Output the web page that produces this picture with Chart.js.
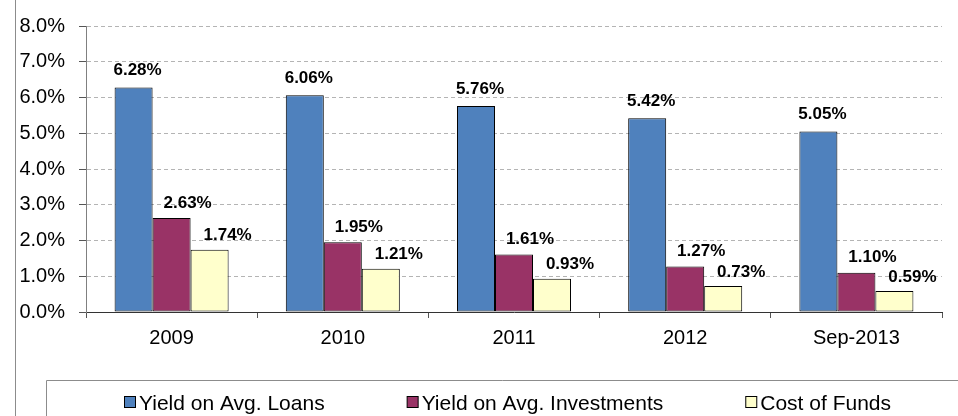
<!DOCTYPE html>
<html>
<head>
<meta charset="utf-8">
<script src="https://cdn.jsdelivr.net/npm/chart.js@4"></script>
<style>
  body { margin: 0; background: #fff; }
  canvas { display: block; }
</style>
</head>
<body>
<canvas id="yields" width="958" height="416"></canvas>
<script>
const categories = ["2009", "2010", "2011", "2012", "Sep-2013"];
const loanYield = [6.28, 6.06, 5.76, 5.42, 5.05];
const investYield = [2.63, 1.95, 1.61, 1.27, 1.10];
const costOfFunds = [1.74, 1.21, 0.93, 0.73, 0.59];

const FONT = "'Liberation Sans', Arial, sans-serif";

// value labels above the bars (dx/dy come from each dataset)
const valueLabels = {
  id: "valueLabels",
  afterDatasetsDraw(chart) {
    const ctx = chart.ctx;
    ctx.save();
    ctx.font = "bold 17px " + FONT;
    ctx.fillStyle = "#000";
    ctx.textAlign = "center";
    ctx.textBaseline = "middle";
    chart.data.datasets.forEach((ds, i) => {
      chart.getDatasetMeta(i).data.forEach((bar, j) => {
        ctx.fillText(ds.data[j].toFixed(2) + "%", bar.x + ds.labelDx, bar.y - ds.labelDy);
      });
    });
    ctx.restore();
  }
};

// outer frame line + boxed legend at the bottom
const frameAndLegend = {
  id: "frameAndLegend",
  afterDraw(chart) {
    const ctx = chart.ctx;
    ctx.save();
    ctx.strokeStyle = "#8c8c8c";
    ctx.lineWidth = 1;
    ctx.beginPath();
    ctx.moveTo(15.5, 0);
    ctx.lineTo(15.5, chart.height);
    ctx.stroke();

    const boxL = 46, boxR = 969, boxT = 380;
    ctx.beginPath();
    ctx.rect(boxL + 0.5, boxT + 0.5, boxR - boxL, 60);
    ctx.stroke();

    ctx.font = "21px " + FONT;
    const gap = 82, sq = 11, sqGap = 4;
    const items = chart.data.datasets.map(ds => ({
      ds, w: sq + sqGap + ctx.measureText(ds.label).width
    }));
    const total = items.reduce((s, it) => s + it.w, 0) + gap * (items.length - 1);
    let x = (boxL + boxR) / 2 - total / 2;
    ctx.textBaseline = "alphabetic";
    ctx.textAlign = "left";
    items.forEach(it => {
      ctx.fillStyle = it.ds.backgroundColor;
      ctx.fillRect(x + 0.5, 396.5, sq, sq);
      ctx.strokeStyle = "#000";
      ctx.strokeRect(x + 0.5, 396.5, sq, sq);
      ctx.fillStyle = "#000";
      ctx.fillText(it.ds.label, x + sq + sqGap, 410);
      x += it.w + gap;
    });
    ctx.restore();
  }
};

const barStyle = {
  borderColor: "#000",
  borderWidth: 1,
  borderSkipped: false,
  categoryPercentage: 0.666,
  barPercentage: 1.0
};

new Chart(document.getElementById("yields"), {
  type: "bar",
  data: {
    labels: categories,
    datasets: [
      { label: "Yield on Avg. Loans", data: loanYield, backgroundColor: "#4f81bd", labelDx: 4, labelDy: 17, ...barStyle },
      { label: "Yield on Avg. Investments", data: investYield, backgroundColor: "#993366", labelDx: 16, labelDy: 15, ...barStyle },
      { label: "Cost of Funds", data: costOfFunds, backgroundColor: "#ffffcc", labelDx: 18, labelDy: 14, ...barStyle }
    ]
  },
  options: {
    responsive: false,
    animation: false,
    layout: { padding: { top: 14, right: 16, left: 0, bottom: 0 } },
    plugins: {
      legend: { display: false },
      tooltip: { enabled: false }
    },
    scales: {
      x: {
        afterFit(scale) { scale.height = 104; },
        grid: {
          offset: true,
          drawOnChartArea: false,
          tickLength: 6,
          tickColor: "#555"
        },
        border: { color: "#333", width: 1 },
        ticks: {
          color: "#000",
          padding: 8,
          font: { family: FONT, size: 20 }
        }
      },
      y: {
        min: 0,
        max: 8,
        afterFit(scale) { scale.width = 86; },
        grid: {
          color: ctx => (ctx.tick && ctx.tick.value === 0 ? "rgba(0,0,0,0)" : "#b4b4b4"),
          tickLength: 7,
          tickColor: "#555",
          tickBorderDash: []
        },
        border: { color: "#808080", width: 1, dash: [4, 3] },
        ticks: {
          stepSize: 1,
          color: "#000",
          padding: 14,
          font: { family: FONT, size: 20 },
          callback: v => v.toFixed(1) + "%"
        }
      }
    }
  },
  plugins: [valueLabels, frameAndLegend]
});
</script>
</body>
</html>
